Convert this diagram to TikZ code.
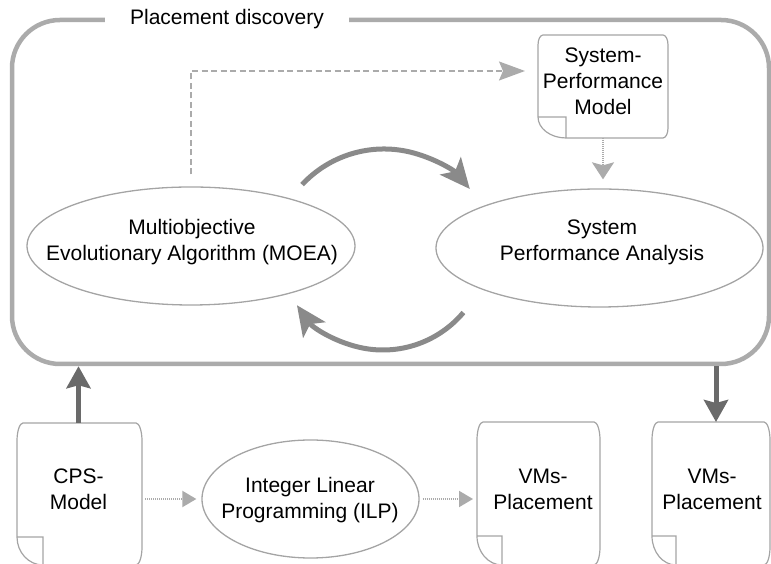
\documentclass[tikz,border=0pt]{standalone}
\usepackage{fontspec}
\setmainfont{Liberation Sans}
\usetikzlibrary{arrows.meta,shapes.geometric,calc}

\definecolor{framegray}{HTML}{ABABAB}
\definecolor{shapegray}{HTML}{A4A4A4}
\definecolor{linegray}{HTML}{ABABAB}
\definecolor{darkgray}{HTML}{6A6A6A}
\definecolor{loopgray}{HTML}{8A8A8A}

% document symbol: straight sides, soft corners, folded lower-left corner
% #1 node, #2 fold width, #3 fold height, #4 corner rx, #5 corner ry
\newcommand\drawdoc[5]{%
  \draw[docline]
    ($(#1.south west)+(0,#3)$) -- ($(#1.north west)+(0,-#5)$)
    .. controls ($(#1.north west)+(0,-0.45*#5)$) and ($(#1.north west)+(0.45*#4,0)$) .. ($(#1.north west)+(#4,0)$)
    -- ($(#1.north east)+(-#4,0)$)
    .. controls ($(#1.north east)+(-0.45*#4,0)$) and ($(#1.north east)+(0,-0.45*#5)$) .. ($(#1.north east)+(0,-#5)$)
    -- ($(#1.south east)+(0,#5)$)
    .. controls ($(#1.south east)+(0,0.45*#5)$) and ($(#1.south east)+(-0.45*#4,0)$) .. ($(#1.south east)+(-#4,0)$)
    -- ($(#1.south west)+(#2,0)$)
    .. controls ($(#1.south west)+(0.45*#2,0)$) and ($(#1.south west)+(0,0.45*#3)$) .. ($(#1.south west)+(0,#3)$)
    -- cycle
    ($(#1.south west)+(0,#3)$) -- ($(#1.south west)+(#2,#3)$) -- ($(#1.south west)+(#2,0)$);
}

\begin{document}
\begin{tikzpicture}[x=1pt,y=1pt,
  txt/.style={font=\fontsize{21}{26}\selectfont, align=center, inner sep=0pt},
  frame/.style={draw=framegray, line width=4.5pt, rounded corners=48pt},
  oval/.style={ellipse, draw=shapegray, line width=1.3pt, inner sep=0pt},
  docbox/.style={rectangle, draw=none, inner sep=0pt, outer sep=0pt},
  docline/.style={draw=shapegray, line width=1.2pt},
  thickarrow/.style={draw=darkgray, line width=5pt,
    -{Stealth[length=22pt,width=24pt,inset=3pt]}},
  looparrow/.style={draw=loopgray, line width=5pt,
    -{Stealth[length=30pt,width=27pt,inset=7pt]}},
  dasharrow/.style={draw=linegray, line width=1.5pt, dash pattern=on 6pt off 3.5pt,
    -{Stealth[length=26pt,width=19pt,inset=4pt]}},
  dotarrow/.style={draw=linegray, line width=2pt, dash pattern=on 1pt off 1pt},
  smallhead/.style={-{Triangle[length=14pt,width=16pt]}},
  midhead/.style={-{Stealth[length=17pt,width=22pt,inset=3pt]}}
]
\useasboundingbox (0,0) rectangle (771,564);

% enclosing frame and its title
\node[frame, minimum width=757pt, minimum height=344pt] (discovery) at (390.5,372) {};
\node[txt, fill=white, inner xsep=25pt, inner ysep=3pt, anchor=base] (title) at (227,539) {Placement discovery};

% ellipses
\node[oval, minimum width=328pt, minimum height=118pt] (moea) at (191,318) {};
\node[txt] (moeat) at (192,322.3) {Multiobjective\\Evolutionary Algorithm (MOEA)};

\node[oval, minimum width=327pt, minimum height=118pt] (spa) at (599.5,316) {};
\node[txt] (spat) at (602,321.8) {System\\Performance Analysis};

\node[oval, minimum width=217pt, minimum height=118pt] (ilp) at (310.5,65) {};
\node[txt] (ilpt) at (310,64.3) {Integer Linear\\Programming (ILP)};

% documents
\node[docbox, minimum width=130pt, minimum height=103pt] (spm) at (603,477.5) {};
\drawdoc{spm}{28}{21}{5}{10}
\node[txt] (spmt) at (603,483) {System-\\Performance\\Model};

\node[docbox, minimum width=125pt, minimum height=142pt] (cps) at (79.5,70) {};
\drawdoc{cps}{26}{28}{6}{18}
\node[txt] (cpst) at (78.5,75) {CPS-\\Model};

\node[docbox, minimum width=123pt, minimum height=143pt] (vmsa) at (538.5,70.5) {};
\drawdoc{vmsa}{25}{29}{6}{18}
\node[txt] (vmsat) at (543,74.8) {VMs-\\Placement};

\node[docbox, minimum width=118pt, minimum height=143pt] (vmsb) at (711,70.5) {};
\drawdoc{vmsb}{24}{29}{6}{18}
\node[txt] (vmsbt) at (712,74.8) {VMs-\\Placement};

% connectors
\coordinate (bend) at (191,493);
\draw[dasharrow, shorten >=13pt] ([yshift=12pt]moea.north) -- (bend) -- (bend -| spm.west);
\draw[dotarrow, midhead, shorten >=9pt] (spm.south) -- (spm.south |- spa.north);

\coordinate (loopa) at (302.1,379.4);
\coordinate (loopb) at (463.4,251.5);
\draw[looparrow] (loopa) arc[start angle=137, end angle=40, radius=112];
\draw[looparrow] (loopb) arc[start angle=-40, end angle=-145, radius=105];

\draw[dotarrow, smallhead, shorten <=3pt, shorten >=5pt] (cps.east |- ilp.west) -- (ilp.west);
\draw[dotarrow, smallhead, shorten <=3pt, shorten >=4pt] (ilp.east) -- (ilp.east -| vmsa.west);

\draw[thickarrow] (cpst.center |- cps.north) -- (cpst.center |- discovery.south);
\coordinate (drop) at (716,0);
\draw[thickarrow] (drop |- discovery.south) -- (drop |- vmsb.north);
\end{tikzpicture}
\end{document}
